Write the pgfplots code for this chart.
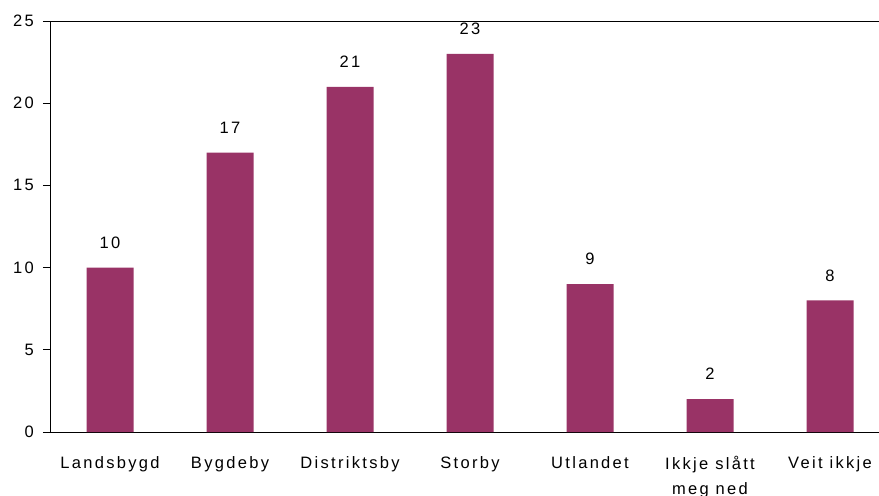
\documentclass[border=0pt]{standalone}
\usepackage{pgfplots}
\pgfplotsset{compat=1.18}
\usepackage{fontspec}
\setmainfont{Liberation Sans}[LetterSpace=14]
\definecolor{barc}{HTML}{993366}
\begin{document}
\begin{tikzpicture}
\begin{axis}[
  name=ax,
  scale only axis,
  width=840pt, height=411pt,
  xmin=-0.5, xmax=6.5,
  ymin=0, ymax=25,
  ytick={0,5,10,15,20,25},
  xtick={0,1,2,3,4,5,6},
  xticklabels={Landsbygd,Bygdeby,Distriktsby,Storby,Utlandet,{Ikkje slått\\meg ned},Veit ikkje},
  extra x ticks={0.5,1.5,2.5,3.5,4.5,5.5},
  extra x tick labels={},
  extra x tick style={major tick length=5pt, tick style={black, line width=0.8pt}},
  xtick pos=bottom, ytick pos=left,
  axis line style={black, line width=0.8pt},
  tick align=outside,
  major tick length=7pt,
  x tick style={draw=none},
  y tick style={black, line width=0.8pt},
  /pgf/number format/assume math mode=true,
  tick label style={font=\fontsize{16.5}{25}\selectfont},
  x tick label style={anchor=north, inner sep=0pt, yshift=-17pt, align=center},
  y tick label style={anchor=east, inner sep=0pt, xshift=-9pt},
  ybar, bar width=47pt,
  clip=false,
  nodes near coords,
  every node near coord/.append style={font=\fontsize{16.5}{18}\selectfont, anchor=south, inner sep=0pt, yshift=19pt},
]
\addplot[fill=barc, draw=none] coordinates {(0,10) (1,17) (2,21) (3,23) (4,9) (5,2) (6,8)};
\end{axis}
\pgfresetboundingbox
\path[use as bounding box] ([xshift=-50pt,yshift=-63pt]ax.south west) rectangle ([xshift=-11pt,yshift=21pt]ax.north east);
\end{tikzpicture}
\end{document}
